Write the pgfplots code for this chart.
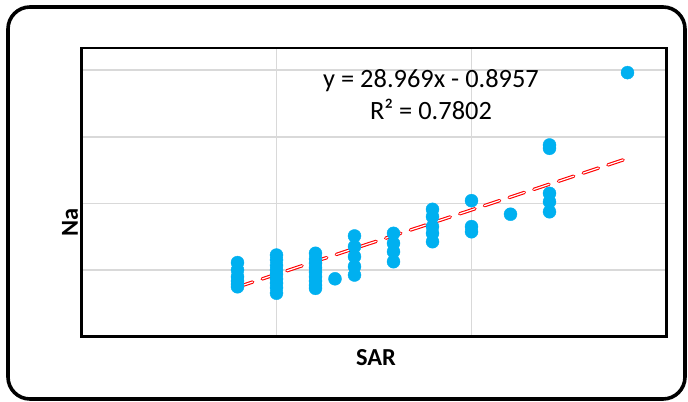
\documentclass[border=0pt]{standalone}
\usepackage{pgfplots}
\pgfplotsset{compat=1.18}
\usepackage{fontspec}
\setmainfont{Carlito}
\definecolor{dotblue}{HTML}{00B0F0}
\definecolor{gridgray}{HTML}{D9D9D9}
\begin{document}
\begin{tikzpicture}
\useasboundingbox (0,0) rectangle (688bp,402bp);
\draw[line width=3.6bp, rounded corners=22bp] (8bp,3bp) rectangle (685bp,395bp);
\begin{axis}[
  at={(81.5bp,65.5bp)}, anchor=south west,
  scale only axis, width=585bp, height=288.5bp,
  xmin=0, xmax=3, ymin=0, ymax=130,
  xtick={1,2}, ytick={30,60,90,120},
  xticklabels={}, yticklabels={},
  major tick length=0pt,
  grid=major,
  major grid style={gridgray, line width=1.5bp},
  axis line style={black, line width=2.5bp},
  clip=false,
]
\addplot[only marks, mark=*, mark size=6.5bp, mark options={draw=dotblue, fill=dotblue}] coordinates {
 (0.8,33.3) (0.8,30) (0.8,27) (0.8,25) (0.8,23.5) (0.8,22.4)
 (1.0,36.7) (1.0,34.5) (1.0,32) (1.0,30) (1.0,28) (1.0,26) (1.0,24) (1.0,22) (1.0,19.5)
 (1.2,37.5) (1.2,35) (1.2,33) (1.2,31) (1.2,29) (1.2,27) (1.2,25) (1.2,23) (1.2,21.7)
 (1.3,26.0)
 (1.4,45.3) (1.4,40.5) (1.4,36.0) (1.4,31.5) (1.4,27.7)
 (1.6,46.5) (1.6,42.0) (1.6,38.2) (1.6,33.7)
 (1.8,57.3) (1.8,54.0) (1.8,49.5) (1.8,46.5) (1.8,42.7)
 (2.0,61.2) (2.0,49.5) (2.0,47.2)
 (2.2,55.1)
 (2.4,86.3) (2.4,84.8) (2.4,64.5) (2.4,60.7) (2.4,56.2)
 (2.8,118.9)
};
\addplot[draw=red, line width=1.1bp, double=white, double distance=1.2bp, dash pattern=on 16bp off 10bp, line cap=round] coordinates {
 (0.8,22.28) (2.8,80.22)
};
\end{axis}
\node[anchor=base, font=\fontsize{26.5}{30}\selectfont] at (431bp,314bp) {y = 28.969x - 0.8957};
\node[anchor=base, font=\fontsize{26.5}{30}\selectfont] at (431bp,282bp) {R² = 0.7802};
\node[anchor=base, font=\fontsize{24.5}{30}\selectfont\bfseries] at (376bp,36.3bp) {SAR};
\node[anchor=center, rotate=90, font=\fontsize{24.5}{30}\selectfont\bfseries] at (70bp,179.5bp) {Na};
\end{tikzpicture}
\end{document}
